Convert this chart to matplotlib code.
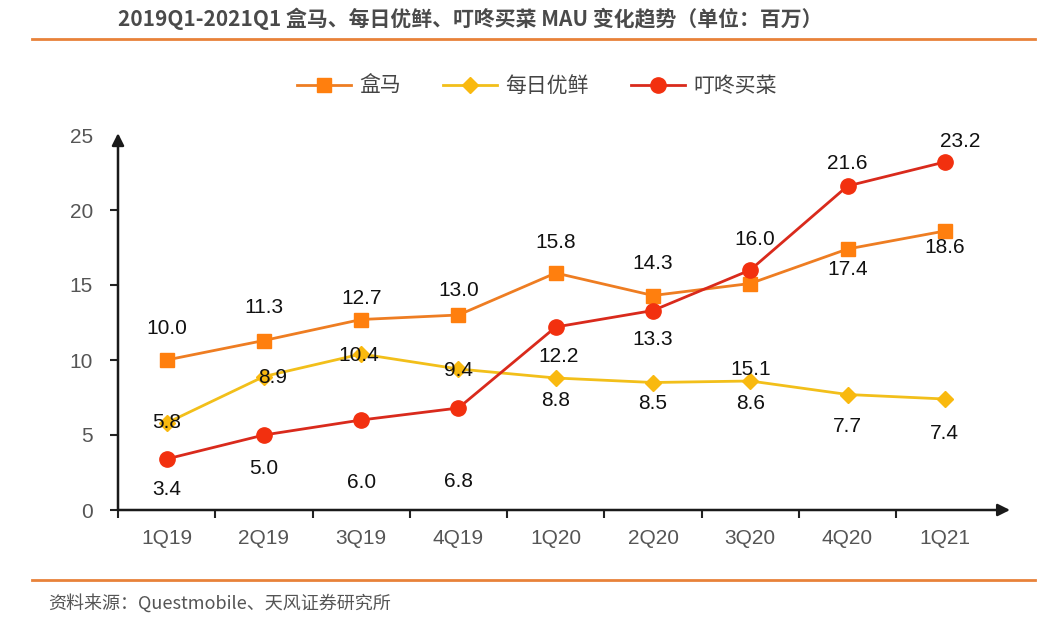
import matplotlib
matplotlib.use("Agg")
import matplotlib.pyplot as plt
from matplotlib.lines import Line2D

# data
quarters = ["1Q19", "2Q19", "3Q19", "4Q19", "1Q20", "2Q20", "3Q20", "4Q20", "1Q21"]
hema = [10.0, 11.3, 12.7, 13.0, 15.8, 14.3, 15.1, 17.4, 18.6]
missfresh = [5.8, 8.9, 10.4, 9.4, 8.8, 8.5, 8.6, 7.7, 7.4]
dingdong = [3.4, 5.0, 6.0, 6.8, 12.2, 13.3, 16.0, 21.6, 23.2]
series_names = ["盒马", "每日优鲜", "叮咚买菜"]
yticks = [0, 5, 10, 15, 20, 25]

# label offsets in points (dx, dy) relative to each point
hema_off = [(0, 23), (0, 24), (0, 15), (0, 18), (0, 22), (0, 23), (0, -62), (0, -15), (0, -12)]
miss_off = [(0, 0), (6, -1), (-2, -1), (0, -1), (0, -16), (0, -15), (0, -16), (0, -23), (0, -25)]
ding_off = [(0, -22), (0, -24), (0, -45), (0, -53), (2, -21), (0, -21), (3, 22), (0, 16), (11, 15)]

CJK = ["Noto Sans CJK SC", "DejaVu Sans"]
LAT = ["Liberation Sans", "Noto Sans CJK SC"]

fig = plt.figure(figsize=(10.5, 6.22), dpi=100)
fig.patch.set_facecolor("white")

ax = fig.add_axes([118 / 1050, (622 - 510) / 622, 892 / 1050, 375 / 622])
ax.set_facecolor("none")

x = list(range(len(quarters)))
styles = [
    (hema, "#EE7D22", "#FF7F0E", "s", 10, hema_off),
    (missfresh, "#F2BF1A", "#F9B90F", "D", 8, miss_off),
    (dingdong, "#D92A1C", "#F2300F", "o", 11, ding_off),
]
for (vals, lc, mc, mk, ms, offs), name in zip(styles, series_names):
    ax.plot(x, vals, color=lc, lw=2, marker=mk, ms=ms, mfc=mc, mec=mc, label=name, zorder=3)
    for xi, v, (dx, dy) in zip(x, vals, offs):
        ax.annotate(f"{v:.1f}", (xi, v), xytext=(dx, dy), textcoords="offset points",
                    ha="center", va="center", fontsize=15, family=LAT, color="#111111", zorder=5)

ax.set_xlim(-0.5, 8.67)
ax.set_ylim(0, 25)
for s in ax.spines.values():
    s.set_visible(False)

ax.set_xticks(x)
ax.set_xticklabels(quarters, family=LAT, fontsize=15, color="#555555")
ax.set_xticks([i - 0.5 for i in range(9)], minor=True)
ax.tick_params(axis="x", which="major", length=0, pad=14)
ax.tick_params(axis="x", which="minor", length=6, width=1.5, color="#222222", direction="out")
ax.set_yticks(yticks)
ax.set_yticklabels([str(t) for t in yticks], family=LAT, fontsize=15, color="#555555")
ax.tick_params(axis="y", length=6, width=1.5, color="#222222", pad=12)
ax.yaxis.get_major_ticks()[-1].tick1line.set_visible(False)

# axis arrows
arrow = dict(arrowstyle="-|>", color="#1a1a1a", lw=1.8, mutation_scale=18, shrinkA=0, shrinkB=0)
ax.annotate("", xy=(0, 1.005), xytext=(0, 0), xycoords="axes fraction", arrowprops=arrow, zorder=6)
ax.annotate("", xy=(1, 0), xytext=(0, 0), xycoords="axes fraction", arrowprops=arrow, zorder=6)

leg = fig.legend(
    handles=[Line2D([0], [0], color=st[1], lw=2, marker=st[3], ms=st[4], mfc=st[2], mec=st[2])
             for st in styles],
    labels=series_names, loc="center", bbox_to_anchor=(537 / 1050, 1 - 86 / 622), ncol=3,
    frameon=False, prop={"family": CJK, "size": 15}, handlelength=2.6, columnspacing=2.0,
    handletextpad=0.4)
for t in leg.get_texts():
    t.set_color("#444444")

# title and rules
fig.text(118 / 1050, 1 - 19 / 622, "2019Q1-2021Q1 盒马、每日优鲜、叮咚买菜 MAU 变化趋势（单位：百万）",
         family=CJK, fontsize=15, weight="bold", color="#4a4a4a", va="center", ha="left")
fig.add_artist(Line2D([32 / 1050, 1035 / 1050], [1 - 39 / 622] * 2, color="#E8823A", lw=2))
fig.add_artist(Line2D([32 / 1050, 1035 / 1050], [1 - 580 / 622] * 2, color="#E8823A", lw=2))
fig.text(48 / 1050, 1 - 603 / 622, "资料来源：Questmobile、天风证券研究所",
         family=CJK, fontsize=13, color="#555555", va="center", ha="left")

fig.savefig("out.png", dpi=100, facecolor="white")
